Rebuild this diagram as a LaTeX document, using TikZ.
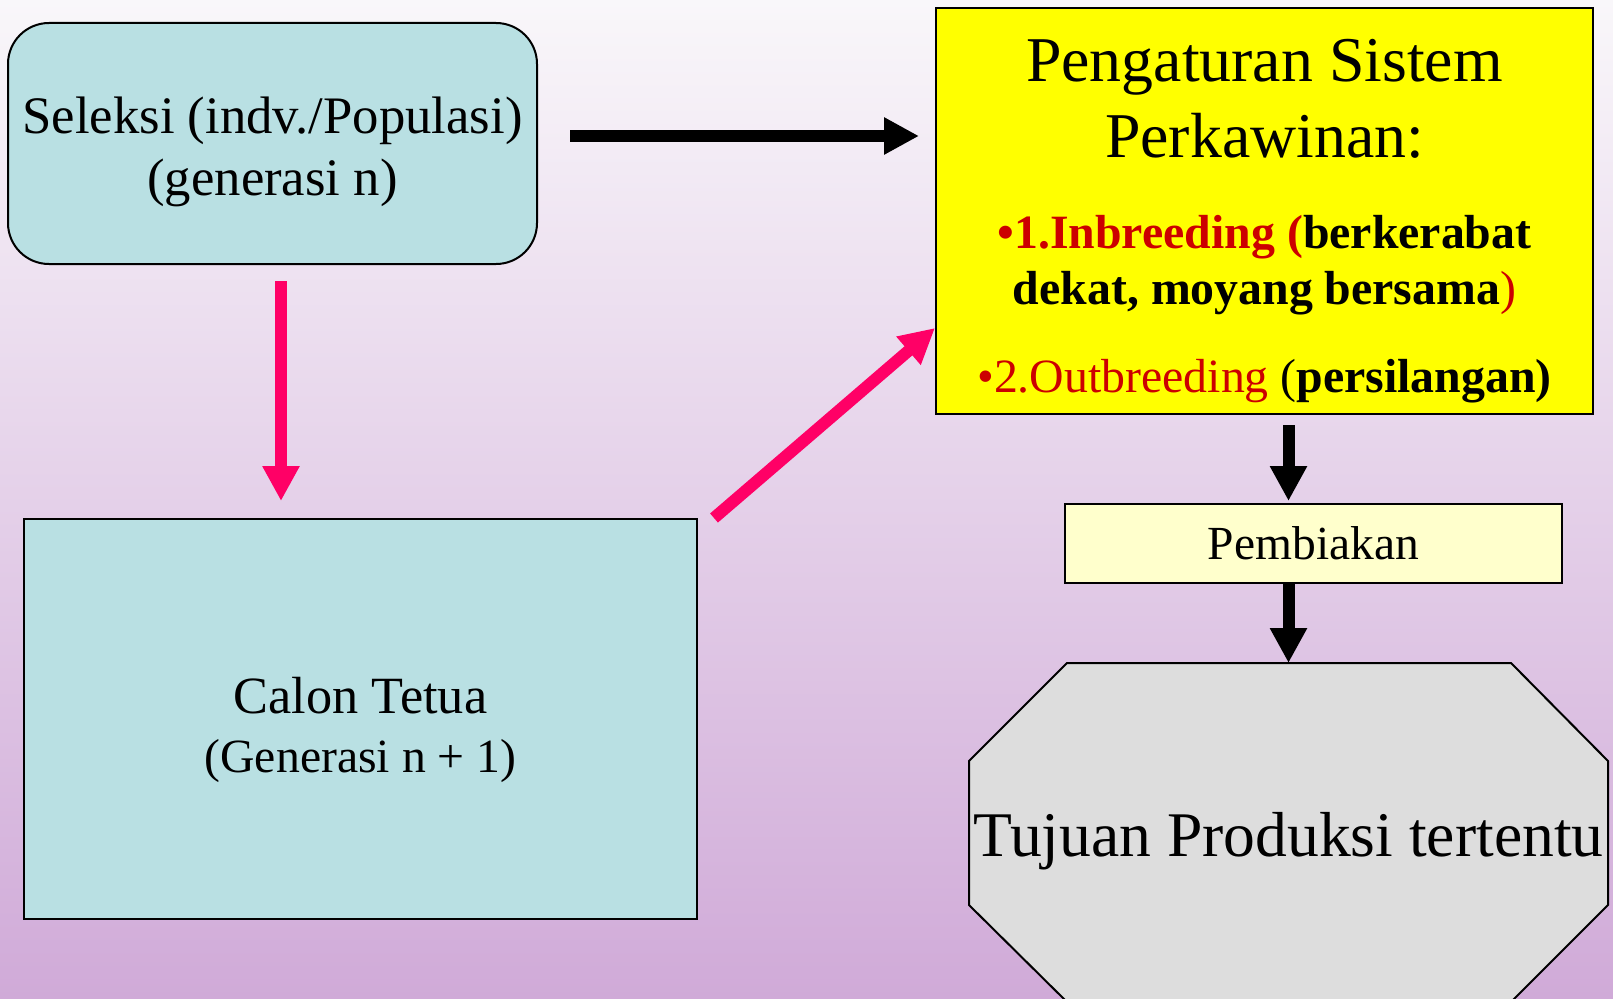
\documentclass[tikz,border=0pt]{standalone}
\usepackage{fontspec}
\setmainfont{Liberation Serif}
\usetikzlibrary{arrows.meta}

\definecolor{bgtop}{RGB}{249,247,250}
\definecolor{bgbot}{RGB}{208,170,216}
\definecolor{boxcyan}{RGB}{185,224,227}
\definecolor{boxyellow}{RGB}{255,255,0}
\definecolor{boxcream}{RGB}{255,255,204}
\definecolor{boxgrey}{RGB}{221,221,221}
\definecolor{arrowpink}{RGB}{255,0,102}
\definecolor{txtred}{RGB}{204,0,0}

\begin{document}
\begin{tikzpicture}[x=1pt,y=1pt,
  box/.style={draw=black,line width=2pt,align=center,inner sep=0pt},
  fat/.style={line width=12pt,-{Triangle[length=35pt,width=35pt]}},
  fatpink/.style={fat,draw=arrowpink,fill=arrowpink}]
  \useasboundingbox (0,0) rectangle (1613,-998);
  \shade[top color=bgtop,bottom color=bgbot] (0,0) rectangle (1613,-998);
  \node[box,fill=boxcyan,rounded corners=41pt,minimum width=529pt,minimum height=241pt,
    text height=104pt,text depth=0pt,font=\fontsize{52.7}{62}\selectfont] (sel) at (272.5,-143.5)
    {Seleksi (indv./Populasi)\\(generasi n)};
  \node[box,fill=boxcyan,minimum width=673pt,minimum height=400pt,
    text height=107pt,text depth=0pt,font=\fontsize{52.3}{59}\selectfont] (cal) at (360.5,-719)
    {Calon Tetua\\{\fontsize{47.7}{59}\selectfont(Generasi n + 1)}};
  \node[box,fill=boxyellow,minimum width=657pt,minimum height=406pt,text height=363pt,text depth=0pt,
    font={\fontsize{47.8}{56}\selectfont\lineskiplimit=-100pt\relax}] (yel) at (1264.5,-211)
    {{\fontsize{63.8}{76}\selectfont Pengaturan Sistem}\\[20pt]
     {\fontsize{63.8}{76}\selectfont Perkawinan:}\\[35pt]
     \textcolor{txtred}{\bfseries •1.Inbreeding (}\textbf{berkerabat}\\
     \textbf{dekat, moyang bersama}\textcolor{txtred}{)}\\[32pt]
     \textcolor{txtred}{•2.Outbreeding} (\textbf{persilangan)}};
  \node[box,fill=boxcream,minimum width=497pt,minimum height=79pt,
    font=\fontsize{47.5}{56}\selectfont] (pem) at (1313.5,-543.5) {Pembiakan};
  \filldraw[fill=boxgrey,draw=black,line width=2pt] (1067,-663) -- (1511,-663) -- (1608,-761)
    -- (1608,-905) -- (1511,-1002) -- (1067,-1002) -- (969,-905) -- (969,-761) -- cycle;
  \coordinate (octtop) at (1288.5,-663);
  \node[anchor=base,inner sep=0pt,font=\fontsize{63.6}{76}\selectfont] (oct) at (1288.5,-856.5)
    {Tujuan Produksi tertentu};
  \draw[fat,shorten <=32pt,shorten >=16pt] ([yshift=7.5pt]sel.east) -- ([yshift=75pt]yel.west);
  \draw[fatpink,shorten <=16pt,shorten >=17pt] ([xshift=8.5pt]sel.south) -- ([xshift=-79.5pt]cal.north);
  \draw[fatpink] ([xshift=16pt]cal.north east) -- ([yshift=-117pt]yel.west);
  \draw[fat,shorten <=10pt,shorten >=2pt] (yel.south -| octtop) -- (pem.north -| octtop);
  \draw[fat] (pem.south -| octtop) -- (octtop);
\end{tikzpicture}
\end{document}
